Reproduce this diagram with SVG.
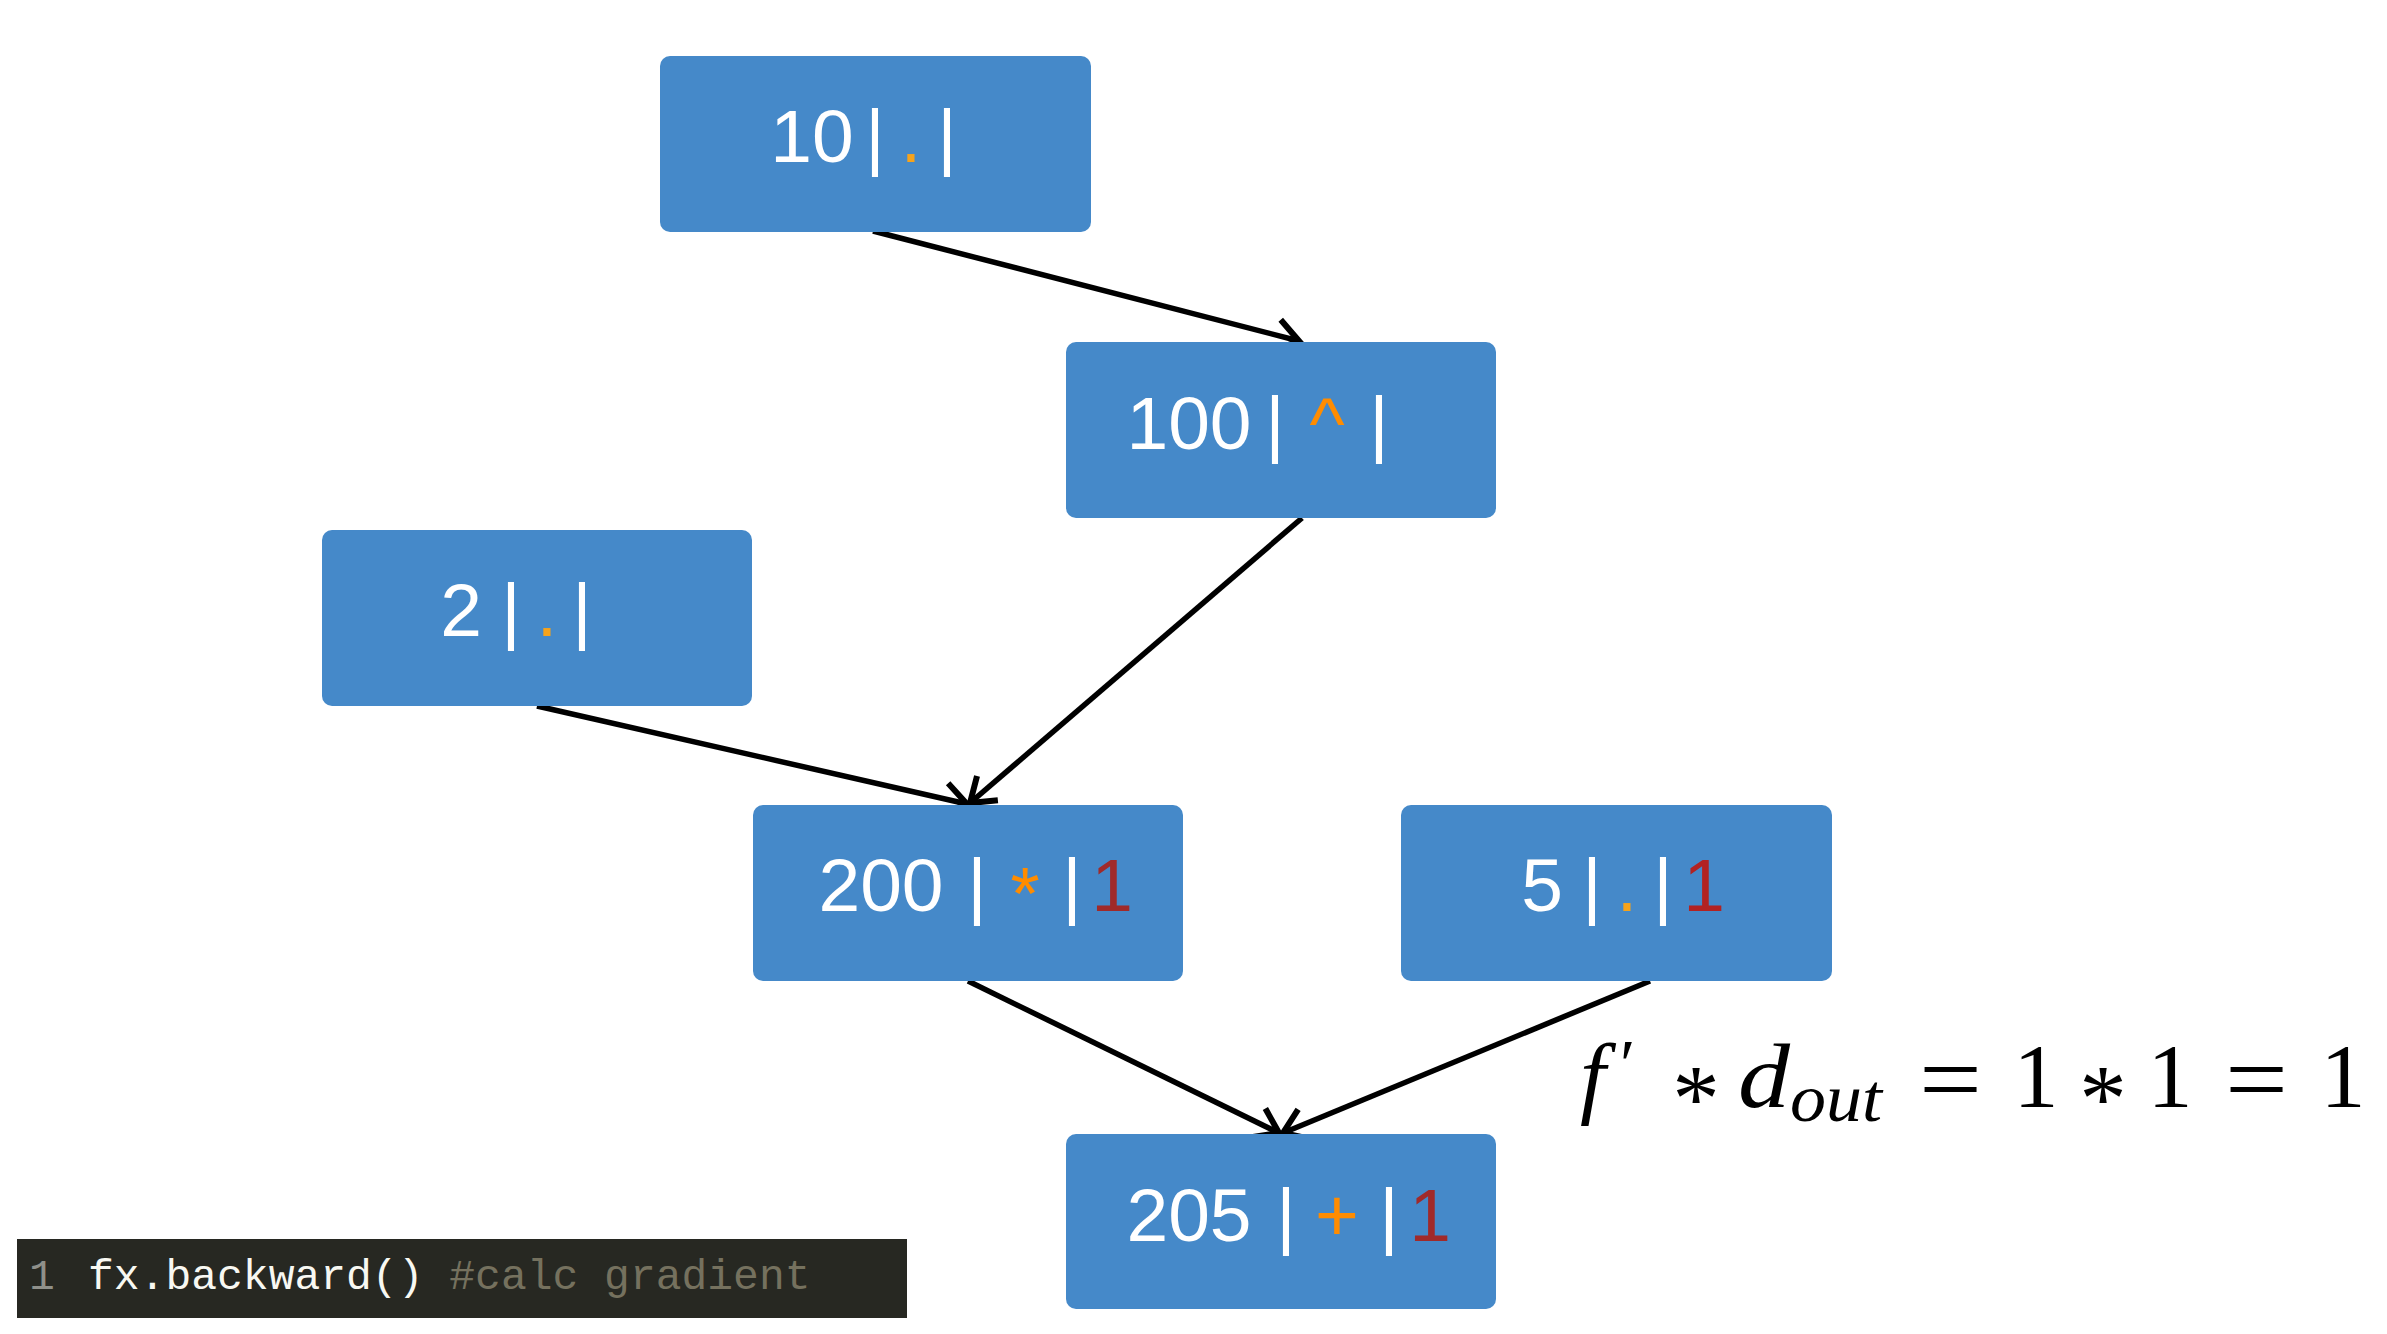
<svg xmlns="http://www.w3.org/2000/svg" width="2387" height="1334" viewBox="0 0 2387 1334">
  <style>
    .box { fill: #4589C9; }
    .t { font-family: "Liberation Sans", Arial, sans-serif; font-size: 75px; fill: #FFFFFF; text-anchor: middle; }
    .op { fill: #FF8C00; }
    .dot { fill: #F6A31B; }
    .grad { fill: #A02A2A; }
    .grad2 { fill: #B22222; }
    .edge { fill: none; stroke: #000000; stroke-width: 5.5; }
    .code { font-family: "Liberation Mono", "Courier New", monospace; font-size: 43px; }
    .m { font-family: "Liberation Serif", "DejaVu Serif", serif; fill: #000000; }
  </style>
  <defs>
    <marker id="arrow" viewBox="-30 -24 38 48" markerWidth="38" markerHeight="48" refX="0" refY="0" orient="auto" markerUnits="userSpaceOnUse">
      <path d="M -23 -16 L 0 0 L -23 16" fill="none" stroke="#000000" stroke-width="6"/>
    </marker>
  </defs>

  <rect width="2387" height="1334" fill="#FFFFFF"/>

  <!-- connectors -->
  <g id="edges">
    <line class="edge" x1="873" y1="231" x2="1299" y2="341" marker-end="url(#arrow)"/>
    <line class="edge" x1="1302" y1="518" x2="970" y2="803" marker-end="url(#arrow)"/>
    <line class="edge" x1="537" y1="706" x2="967" y2="804" marker-end="url(#arrow)"/>
    <line class="edge" x1="968" y1="981" x2="1279" y2="1133" marker-end="url(#arrow)"/>
    <line class="edge" x1="1650" y1="981" x2="1283" y2="1133" marker-end="url(#arrow)"/>
  </g>

  <!-- value | op | grad nodes -->
  <g id="node-10">
    <rect class="box" x="660" y="56" width="431" height="176" rx="10"/>
    <text class="t" x="812" y="162">10</text>
    <text class="t" x="875" y="162">|</text>
    <text class="t dot" x="911" y="162">.</text>
    <text class="t" x="947" y="162">|</text>
  </g>

  <g id="node-100">
    <rect class="box" x="1066" y="342" width="430" height="176" rx="10"/>
    <text class="t" x="1189" y="449">100</text>
    <text class="t" x="1275" y="449">|</text>
    <text class="t op" x="1327" y="449">^</text>
    <text class="t" x="1379" y="449">|</text>
  </g>

  <g id="node-2">
    <rect class="box" x="322" y="530" width="430" height="176" rx="10"/>
    <text class="t" x="461" y="636">2</text>
    <text class="t" x="511" y="636">|</text>
    <text class="t dot" x="547" y="636">.</text>
    <text class="t" x="582" y="636">|</text>
  </g>

  <g id="node-200">
    <rect class="box" x="753" y="805" width="430" height="176" rx="10"/>
    <text class="t" x="881" y="911">200</text>
    <text class="t" x="977" y="911">|</text>
    <text class="t op" x="1025" y="919">*</text>
    <text class="t" x="1072" y="911">|</text>
    <text class="t grad" x="1112" y="911">1</text>
  </g>

  <g id="node-5">
    <rect class="box" x="1401" y="805" width="431" height="176" rx="10"/>
    <text class="t" x="1542" y="911">5</text>
    <text class="t" x="1592" y="911">|</text>
    <text class="t dot" x="1627" y="911">.</text>
    <text class="t" x="1663" y="911">|</text>
    <text class="t grad2" x="1704" y="911">1</text>
  </g>

  <g id="node-205">
    <rect class="box" x="1066" y="1134" width="430" height="175" rx="10"/>
    <text class="t" x="1189" y="1241">205</text>
    <text class="t" x="1286" y="1241">|</text>
    <text class="t op" x="1337" y="1241">+</text>
    <text class="t" x="1389" y="1241">|</text>
    <text class="t grad" x="1430" y="1241">1</text>
  </g>

  <!-- code snippet -->
  <g id="code">
    <rect x="17" y="1239" width="890" height="79" fill="#272822"/>
    <text class="code" x="29" y="1289" fill="#8F908A">1</text>
    <text class="code" x="88" y="1289"><tspan fill="#F8F8F2">fx.backward()</tspan><tspan fill="#75715E"> #calc gradient</tspan></text>
  </g>

  <!-- gradient formula -->
  <g id="formula">
    <text class="m" x="1580" y="1107" font-size="92" font-style="italic">f</text>
    <text class="m" x="1620" y="1088" font-size="70">′</text>
    <text class="m" x="1696" y="1131" font-size="95" text-anchor="middle">*</text>
    <text class="m" x="1738" y="1107" font-size="92" font-style="italic" textLength="52" lengthAdjust="spacingAndGlyphs">d</text>
    <text class="m" x="1790" y="1121" font-size="68" font-style="italic" textLength="92" lengthAdjust="spacingAndGlyphs">out</text>
    <text class="m" x="1919" y="1113" font-size="100" textLength="63" lengthAdjust="spacingAndGlyphs">=</text>
    <text class="m" x="2036" y="1107" font-size="90" text-anchor="middle">1</text>
    <text class="m" x="2103" y="1131" font-size="95" text-anchor="middle">*</text>
    <text class="m" x="2170" y="1107" font-size="90" text-anchor="middle">1</text>
    <text class="m" x="2225" y="1113" font-size="100" textLength="63" lengthAdjust="spacingAndGlyphs">=</text>
    <text class="m" x="2343" y="1107" font-size="90" text-anchor="middle">1</text>
  </g>
</svg>
